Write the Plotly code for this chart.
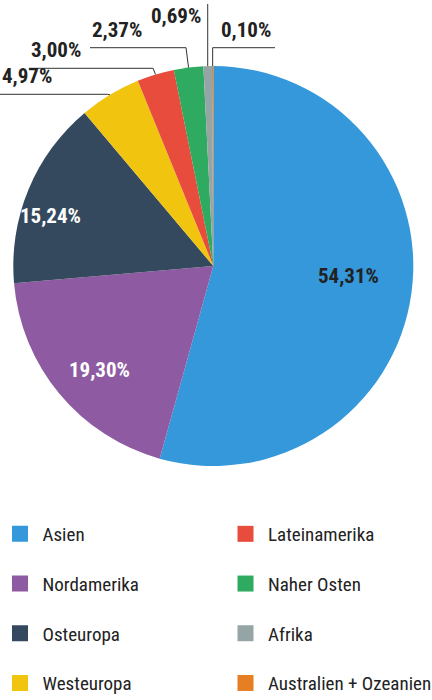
import math
import plotly.graph_objects as go

# ---------------- data ----------------
categories = ["Asien", "Nordamerika", "Osteuropa", "Westeuropa",
              "Lateinamerika", "Naher Osten", "Afrika", "Australien + Ozeanien"]
shares = [54.31, 19.30, 15.24, 4.97, 3.00, 2.37, 0.69, 0.10]
colors = ["#3498db", "#8e5ba2", "#34495e", "#f1c40f",
          "#e74c3c", "#2eab61", "#95a5a6", "#e67e22"]

# ---------------- layout constants ----------------
W, H = 432, 700
CX, CY, R = 213.3, 266.0, 200.0          # pie centre / radius in px
FONT = "Noto Sans Condensed, Noto Sans ExtraCondensed, Roboto Condensed, Roboto"
LBL_SIZE = 21
DARK = "#222222"

def px(x):
    return x / W

def py(y):
    return 1 - y / H

def labeltext(v):
    return f"{v:.2f}".replace(".", ",") + "%"

# mid angles (degrees clockwise from 12 o'clock)
total = sum(shares)
mids = []
acc = 0.0
for v in shares:
    mids.append((acc + v / 2) / total * 360.0)
    acc += v

def polar(angle_deg, r):
    a = math.radians(angle_deg)
    return CX + r * math.sin(a), CY - r * math.cos(a)

fig = go.Figure()

fig.add_trace(go.Pie(
    labels=categories, values=shares, sort=False, direction="clockwise",
    rotation=0, marker=dict(colors=colors, line=dict(width=0)),
    textinfo="none", hoverinfo="label+percent", showlegend=False,
    domain=dict(x=[px(CX - R), px(CX + R)], y=[py(CY + R), py(CY - R)]),
))

annotations = []
shapes = []

# inside labels: index -> (radius fraction, angle shift, text colour)
inside = {0: (0.68, -3.6, DARK), 1: (0.77, -2.7, "white"), 2: (0.85, -5.3, "white")}
for i, (rf, shift, col) in inside.items():
    x, y = polar(mids[i] + shift, R * rf)
    annotations.append(dict(x=px(x), y=py(y), xref="paper", yref="paper",
                            text=f"<b>{labeltext(shares[i])}</b>", showarrow=False,
                            font=dict(family=FONT, size=LBL_SIZE, color=col),
                            xanchor="center", yanchor="middle"))

# outside labels: index -> (line y px, far end x px, side)
outside = {3: (94.3, 0.0, "left"),
           4: (68.3, 29.0, "left"),
           5: (47.7, 90.0, "left"),
           6: (4.0, None, "top"),
           7: (47.7, 275.0, "right")}
for i, (ly, fx, side) in outside.items():
    ex, ey = polar(mids[i], R)
    txt = f"<b>{labeltext(shares[i])}</b>"
    if side == "top":
        shapes.append(dict(type="line", xref="paper", yref="paper",
                           x0=px(ex), y0=py(ey), x1=px(ex), y1=py(ly),
                           line=dict(color="#333333", width=1)))
        annotations.append(dict(x=px(ex - 5), y=py(ly - 2), xref="paper", yref="paper",
                                text=txt, showarrow=False, xanchor="right", yanchor="top",
                                font=dict(family=FONT, size=LBL_SIZE, color=DARK)))
        continue
    elbow_x = ex - 2.5 if side == "left" else ex
    shapes.append(dict(type="path", xref="paper", yref="paper",
                       path=f"M {px(fx)},{py(ly)} L {px(elbow_x)},{py(ly)} L {px(ex)},{py(ey)}",
                       line=dict(color="#333333", width=1)))
    if side == "left":
        annotations.append(dict(x=px(fx), y=py(ly - 4), xref="paper", yref="paper",
                                text=txt, showarrow=False, xanchor="left", yanchor="bottom",
                                font=dict(family=FONT, size=LBL_SIZE, color=DARK)))
    else:
        annotations.append(dict(x=px(fx - 2), y=py(ly - 4), xref="paper", yref="paper",
                                text=txt, showarrow=False, xanchor="right", yanchor="bottom",
                                font=dict(family=FONT, size=LBL_SIZE, color=DARK)))

# legend entries (two columns, column-major like the slice order)
half = (len(categories) + 1) // 2
for i, (cat, col) in enumerate(zip(categories, colors)):
    fig.add_trace(go.Scatter(
        x=[None], y=[None], mode="markers", name=cat,
        marker=dict(symbol="square", size=16, color=col),
        legend="legend" if i < half else "legend2", legendgroup=cat,
        hoverinfo="skip",
    ))

legend_common = dict(
    orientation="v", yanchor="top", xanchor="left",
    font=dict(family=FONT, size=19, color=DARK),
    itemsizing="trace", tracegroupgap=22, bgcolor="rgba(0,0,0,0)",
    itemwidth=35,
)
fig.update_layout(
    width=W, height=H, margin=dict(l=0, r=0, t=0, b=0, autoexpand=False),
    paper_bgcolor="white", plot_bgcolor="white",
    xaxis=dict(visible=False), yaxis=dict(visible=False),
    annotations=annotations, shapes=shapes,
    legend=dict(x=px(-2.5), y=py(515), **legend_common),
    legend2=dict(x=px(223), y=py(515), **legend_common),
)

fig.write_html("out.html", config={"displayModeBar": False},
               post_script="document.body.style.margin='0';document.body.style.overflow='hidden';")
